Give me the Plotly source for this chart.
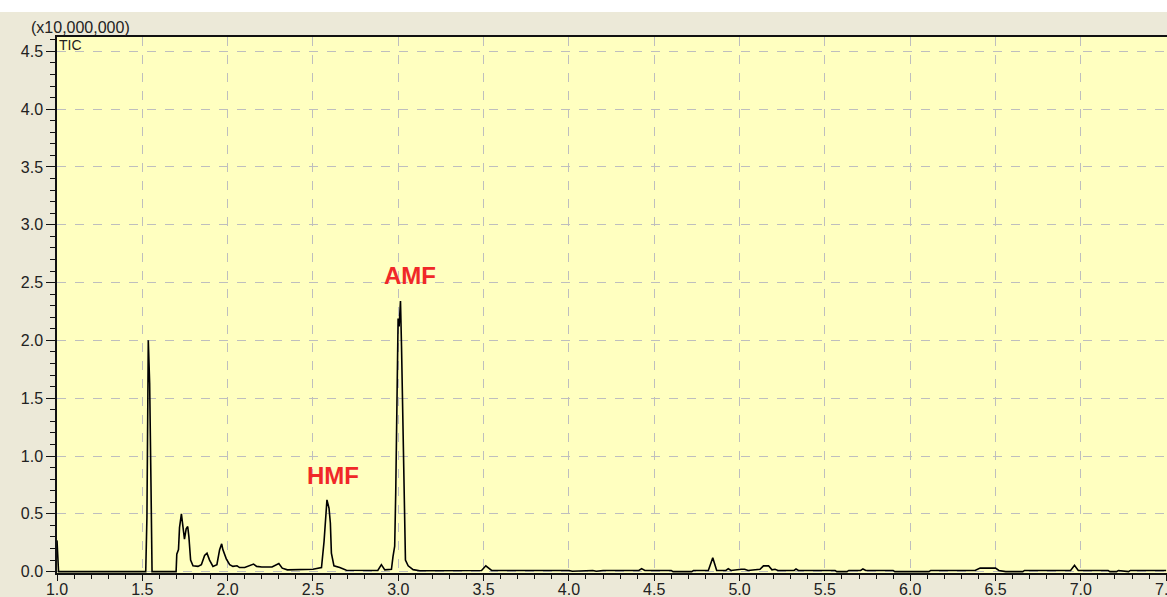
import plotly.graph_objects as go

# Retention time (min) and TIC intensity (x10,000,000)
rt = [1.000, 1.004, 1.009, 1.520, 1.527, 1.535, 1.543, 1.551, 1.557, 1.698,
      1.702, 1.712, 1.718, 1.729, 1.737, 1.747, 1.757, 1.766, 1.773, 1.783,
      1.797, 1.826, 1.846, 1.865, 1.879, 1.894, 1.914, 1.937, 1.953, 1.965,
      1.972, 1.992, 2.012, 2.031, 2.055, 2.070, 2.100, 2.152, 2.170, 2.200,
      2.260, 2.300, 2.320, 2.350, 2.500, 2.550, 2.565, 2.573, 2.582, 2.594,
      2.602, 2.608, 2.623, 2.657, 2.696, 2.880, 2.901, 2.921, 2.960, 2.969,
      2.979, 2.985, 2.993, 2.999, 3.005, 3.013, 3.019, 3.028, 3.036, 3.042,
      3.058, 3.087, 3.126, 3.488, 3.513, 3.547, 4.000, 4.020, 4.140, 4.160,
      4.200, 4.410, 4.426, 4.445, 4.600, 4.610, 4.720, 4.730, 4.817, 4.843,
      4.866, 4.920, 4.934, 4.950, 5.010, 5.030, 5.050, 5.120, 5.140, 5.170,
      5.190, 5.208, 5.225, 5.320, 5.331, 5.345, 5.560, 5.570, 5.630, 5.640,
      5.710, 5.723, 5.740, 5.900, 5.910, 6.110, 6.120, 6.380, 6.410, 6.500,
      6.520, 6.560, 6.660, 6.670, 6.940, 6.963, 6.985, 7.160, 7.170, 7.210,
      7.220, 7.260, 7.280, 7.290, 7.500]
tic = [0.27, 0.18, 0.00, 0.00, 0.47, 2.00, 1.63, 0.73, 0.00, 0.00,
       0.15, 0.19, 0.38, 0.50, 0.42, 0.28, 0.37, 0.39, 0.30, 0.10,
       0.05, 0.045, 0.06, 0.14, 0.16, 0.10, 0.045, 0.06, 0.19, 0.24,
       0.19, 0.11, 0.06, 0.045, 0.05, 0.035, 0.035, 0.065, 0.045, 0.04,
       0.04, 0.07, 0.03, 0.015, 0.02, 0.035, 0.26, 0.48, 0.62, 0.55,
       0.42, 0.16, 0.05, 0.035, 0.012, 0.01, 0.06, 0.015, 0.02, 0.13,
       0.22, 0.68, 1.40, 2.19, 2.12, 2.34, 1.95, 1.14, 0.56, 0.10,
       0.05, 0.017, 0.008, 0.01, 0.05, 0.01, 0.01, 0.003, 0.01, 0.003,
       0.01, 0.01, 0.026, 0.01, 0.01, 0.0, 0.0, 0.01, 0.01, 0.12,
       0.01, 0.01, 0.025, 0.01, 0.02, 0.02, 0.01, 0.02, 0.05, 0.05,
       0.015, 0.02, 0.01, 0.01, 0.023, 0.01, 0.01, 0.0, 0.0, 0.01,
       0.01, 0.023, 0.01, 0.01, 0.0, 0.0, 0.01, 0.01, 0.03, 0.03,
       0.01, 0.0, 0.0, 0.01, 0.01, 0.055, 0.01, 0.01, 0.0, 0.0,
       0.01, 0.0, 0.0, 0.01, 0.01]

peak_labels = ["HMF", "AMF"]
peak_x = [2.616, 3.067]
peak_y = [0.83, 2.56]

W, H = 1167, 597
ML, MT, MR, MB = 57, 37, 0, 24
PH = H - MT - MB

font_family = "Liberation Sans, Arial, sans-serif"

fig = go.Figure()
fig.add_trace(go.Scatter(x=rt, y=tic, mode="lines",
                         line=dict(color="black", width=1.6), showlegend=False))

for t, x, y in zip(peak_labels, peak_x, peak_y):
    fig.add_annotation(x=x, y=y, text="<b>%s</b>" % t, showarrow=False,
                       font=dict(family=font_family, size=24, color="#F02828"))

fig.add_annotation(xref="paper", yref="paper", x=0, y=1, xanchor="left", yanchor="middle",
                   xshift=-28, yshift=10, text="(x10,000,000)", showarrow=False,
                   font=dict(family=font_family, size=16, color="#222"))
fig.add_annotation(xref="paper", yref="paper", x=0, y=1, xanchor="left", yanchor="top",
                   xshift=0, yshift=2, text="TIC", showarrow=False,
                   font=dict(family=font_family, size=14, color="#222"))

# white strip at the very top
fig.add_shape(type="rect", xref="paper", yref="paper",
              x0=-0.1, x1=1.1, y0=1 + (MT - 12) / PH, y1=1 + (MT + 5) / PH,
              fillcolor="white", line=dict(width=0), layer="below")

axis_common = dict(showgrid=True, gridcolor="#BEBEBE", griddash="dash", gridwidth=1,
                   showline=True, linecolor="#111", linewidth=1.5, zeroline=False,
                   ticks="outside", tickcolor="#111", tickwidth=1,
                   tickfont=dict(family=font_family, size=16, color="#222"),
                   automargin=False, ticklabeloverflow="allow")

fig.update_layout(
    width=W, height=H,
    margin=dict(l=ML, r=MR, t=MT, b=MB),
    paper_bgcolor="#ECE9D8",
    plot_bgcolor="#FFFFC0",
    xaxis=dict(range=[1.0, 7.505], dtick=0.5, tick0=1.0, tickformat=".1f", mirror=True,
               ticklen=6, ticklabelstandoff=-5,
               minor=dict(dtick=0.1, ticks="outside", ticklen=4, tickcolor="#111", showgrid=False),
               **axis_common),
    yaxis=dict(range=[-0.012, 4.624], dtick=0.5, tick0=0, tickformat=".1f",
               ticklen=9,
               minor=dict(dtick=0.1, ticks="outside", ticklen=5, tickcolor="#111", showgrid=False),
               **axis_common),
)

fig.write_html("out.html")
